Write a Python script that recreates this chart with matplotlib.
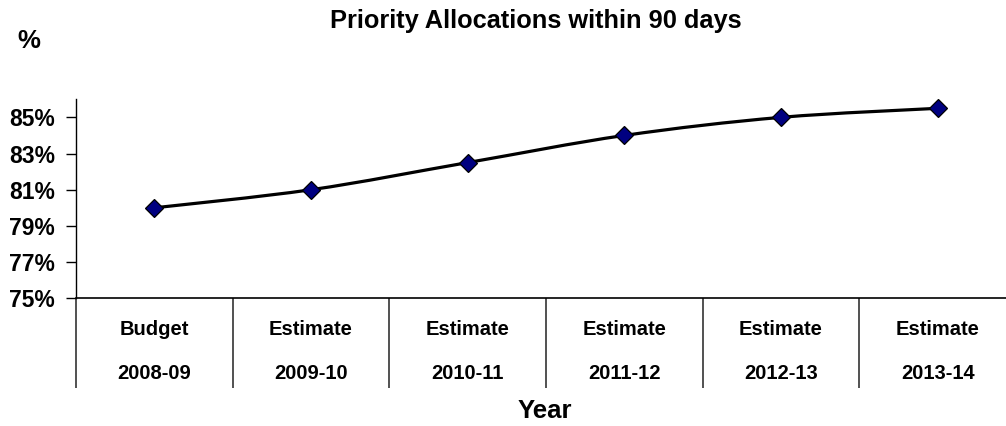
import matplotlib
matplotlib.use("Agg")
import matplotlib.pyplot as plt
from matplotlib.path import Path
from matplotlib.patches import PathPatch
from matplotlib.ticker import FixedLocator

kinds = ["Budget", "Estimate", "Estimate", "Estimate", "Estimate", "Estimate"]
years = ["2008-09", "2009-10", "2010-11", "2011-12", "2012-13", "2013-14"]
allocations = [80.0, 81.0, 82.5, 84.0, 85.0, 85.5]

plt.rcParams["font.family"] = ["Liberation Sans", "DejaVu Sans"]
plt.rcParams["font.weight"] = "bold"


def smooth_path(xs, ys):
    # excel style smoothed line: bezier segments through every point
    pts = list(zip(xs, ys))
    verts = [pts[0]]
    codes = [Path.MOVETO]
    n = len(pts)
    for i in range(n - 1):
        p0 = pts[max(i - 1, 0)]
        p1 = pts[i]
        p2 = pts[i + 1]
        p3 = pts[min(i + 2, n - 1)]
        c1 = (p1[0] + (p2[0] - p0[0]) / 6, p1[1] + (p2[1] - p0[1]) / 6)
        c2 = (p2[0] - (p3[0] - p1[0]) / 6, p2[1] - (p3[1] - p1[1]) / 6)
        verts += [c1, c2, p2]
        codes += [Path.CURVE4] * 3
    return Path(verts, codes)


def main():
    fig = plt.figure(figsize=(10.06, 4.26), dpi=100)
    ax = fig.add_axes([0.0755, 0.2998, 0.9344, 0.4672])
    xs = list(range(len(allocations)))

    ax.add_patch(PathPatch(smooth_path(xs, allocations), facecolor="none",
                           edgecolor="black", lw=2.3, transform=ax.transData))
    ax.plot(xs, allocations, ls="none", marker="D", ms=9.5,
            mfc="#000080", mec="black", mew=0.9, zorder=3)

    ax.set_xlim(-0.5, len(xs) - 0.5)
    ax.set_ylim(75, 86)
    ax.set_yticks([75, 77, 79, 81, 83, 85])
    ax.set_yticklabels(["%d%%" % v for v in [75, 77, 79, 81, 83, 85]],
                       fontsize=16.5, fontweight="bold")
    ax.tick_params(axis="y", length=7, width=1, pad=8)

    ax.set_xticks([])
    ax.xaxis.set_minor_locator(FixedLocator([x - 0.5 for x in range(len(xs) + 1)]))
    ax.tick_params(axis="x", which="minor", length=65, width=1.2,
                   color="#333333", direction="out")

    for side in ["top", "right"]:
        ax.spines[side].set_visible(False)
    ax.spines["left"].set_linewidth(1.0)
    ax.spines["bottom"].set_linewidth(1.2)

    trans = ax.get_xaxis_transform()
    for x, kind, year in zip(xs, kinds, years):
        ax.text(x, -0.156, kind, transform=trans, ha="center", va="center",
                fontsize=14.5, fontweight="bold")
        ax.text(x, -0.377, year, transform=trans, ha="center", va="center",
                fontsize=14.5, fontweight="bold")

    fig.text(535.5 / 1006, 1 - 21 / 426, "Priority Allocations within 90 days",
             ha="center", va="center", fontsize=18.3, fontweight="bold")
    fig.text(545 / 1006, 1 - 411 / 426, "Year", ha="center", va="center",
             fontsize=18.5, fontweight="bold")
    fig.text(29 / 1006, 1 - 41 / 426, "%", ha="center", va="center",
             fontsize=18.5, fontweight="bold")

    fig.savefig("out.png", dpi=100)


if __name__ == "__main__":
    main()
